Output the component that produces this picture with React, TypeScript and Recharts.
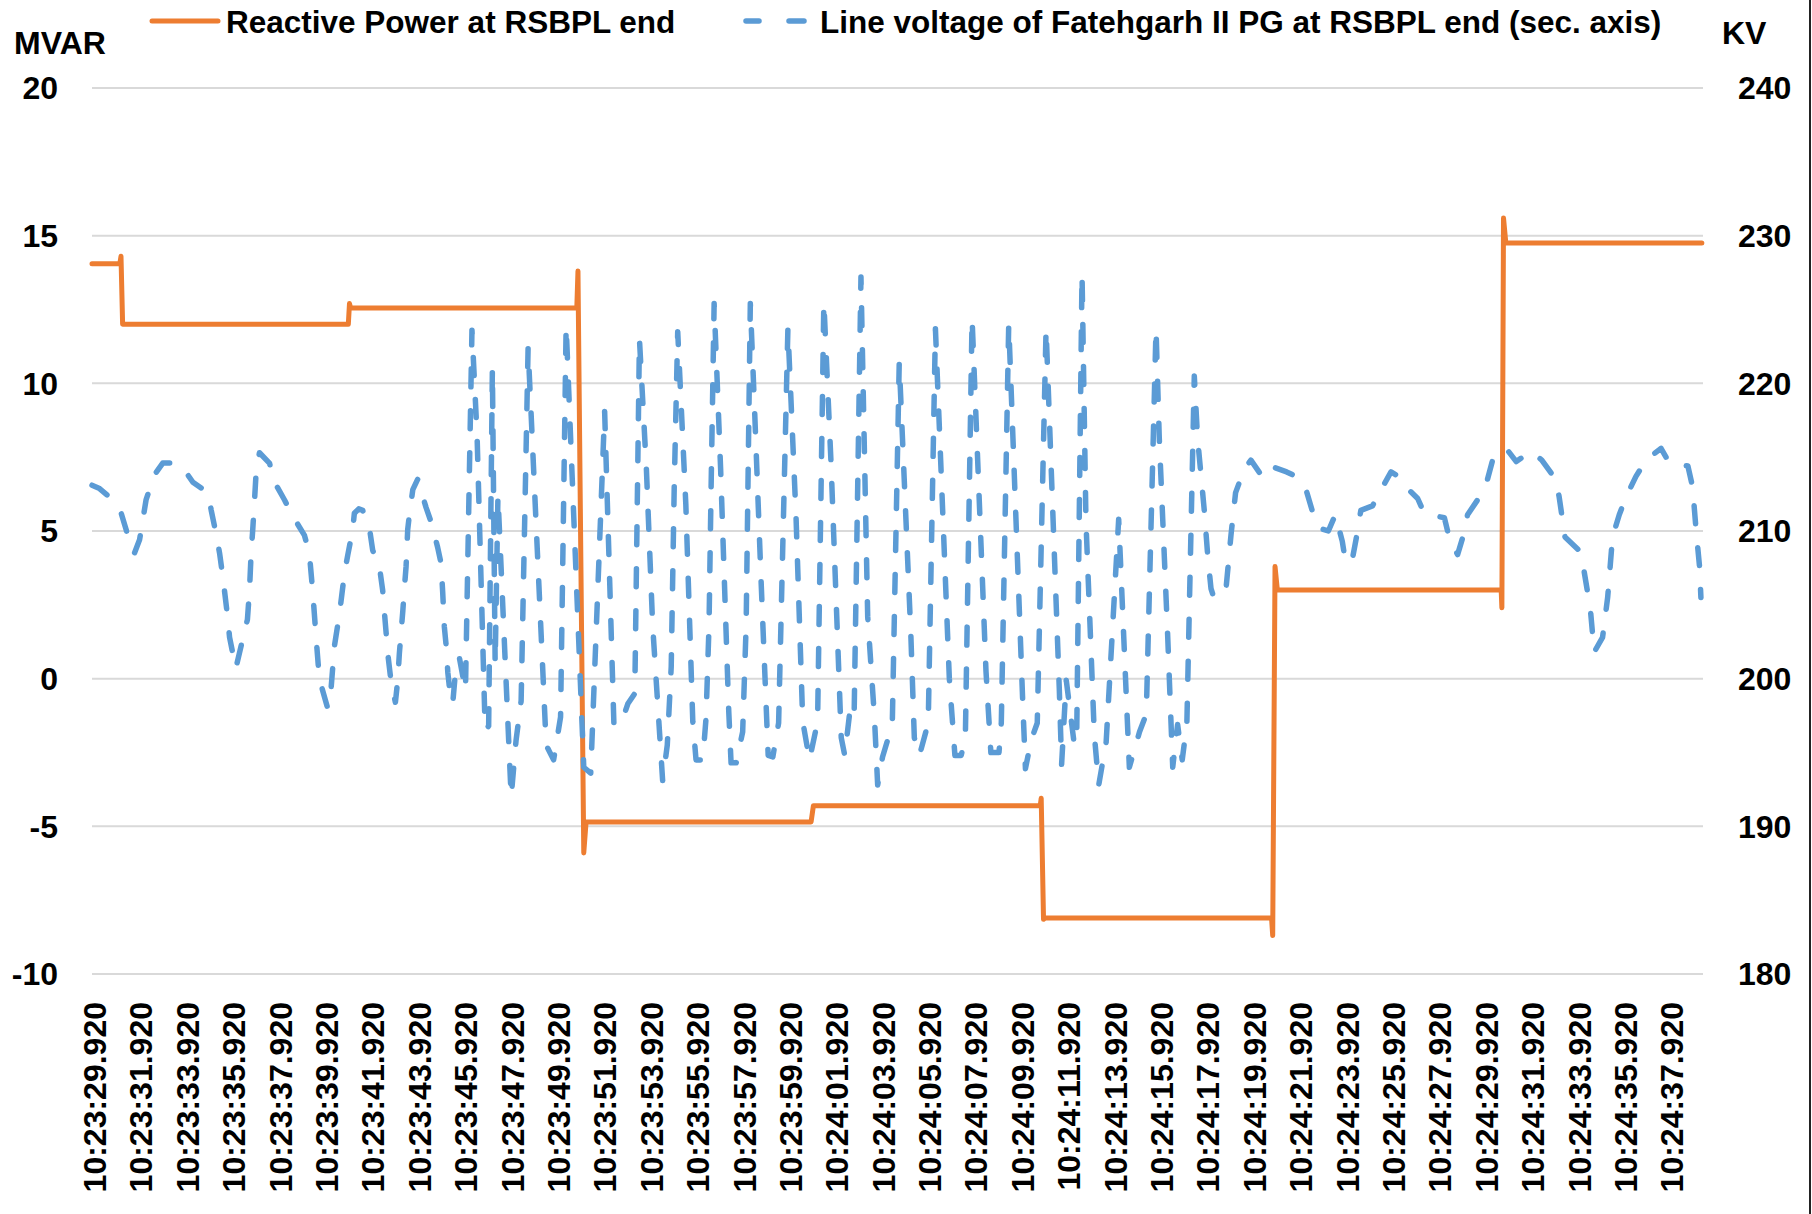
import React from "react";
import { CartesianGrid, Line, LineChart, XAxis, YAxis } from "recharts";

const FONT = '"Liberation Sans", Arial, sans-serif';
const ORANGE = "#ED7D31";
const BLUE = "#5B9BD5";

// seconds after 10:23:29.920
const powerTime = [
  0, 1.2, 1.25, 1.32, 11.05, 11.1, 11.15, 20.9, 20.95, 21.2, 21.3, 31.0, 31.1,
  40.88, 40.92, 41.02, 41.1, 50.85, 50.9, 51.0, 51.1, 60.75, 60.78, 60.85,
  60.95, 69.4,
];
const powerMvar = [
  14.05, 14.05, 14.3, 12.0, 12.0, 12.7, 12.55, 12.55, 13.8, -5.9, -4.85, -4.85,
  -4.3, -4.3, -4.05, -8.15, -8.1, -8.1, -8.7, 3.8, 3.0, 3.0, 2.4, 15.6, 14.75,
  14.75,
];

const voltTime = [
  0.0, 0.3, 0.68, 1.0, 1.26, 1.47, 1.65, 1.83, 2.05, 2.33, 2.69, 3.05, 3.5,
  3.91, 4.35, 5.0, 5.14, 5.35, 5.5, 5.64, 5.86, 5.93, 6.2, 6.5, 6.7, 6.79, 6.86,
  6.93, 7.0, 7.08, 7.22, 7.65, 7.87, 8.3, 8.66, 9.16, 9.37, 9.52, 9.66, 9.8,
  10.16, 10.31, 10.45, 10.67, 10.88, 11.03, 11.24, 11.31, 11.5, 11.67, 11.96,
  12.1, 12.39, 12.53, 12.6, 12.68, 12.75, 12.9, 13.08, 13.18, 13.25, 13.4,
  13.47, 13.54, 13.61, 13.69, 13.83, 14.04, 14.4, 14.62, 14.9, 15.05, 15.12,
  15.19, 15.27, 15.34, 15.41, 15.55, 15.7, 15.84, 16.1, 16.38, 16.6, 16.95,
  17.1, 17.26, 17.38, 17.5, 18.07, 18.28, 18.5, 18.8, 19.58, 19.9, 20.2, 20.44,
  21.2, 21.5, 22.1, 22.5, 22.8, 23.1, 23.4, 23.6, 23.9, 24.17, 24.6, 24.8,
  24.97, 25.1, 25.25, 25.6, 25.9, 26.04, 26.33, 26.47, 26.6, 26.69, 26.82, 27.1,
  27.45, 27.55, 27.77, 28.05, 28.2, 28.38, 28.55, 28.85, 29.15, 29.35, 29.6,
  30.0, 30.35, 30.64, 30.93, 31.28, 31.55, 31.86, 32.3, 32.45, 32.65, 32.85,
  33.15, 33.44, 33.73, 33.87, 34.08, 34.5, 34.8, 35.3, 35.45, 35.67, 36.05,
  36.36, 36.96, 37.2, 37.47, 37.65, 37.94, 38.54, 38.75, 39.1, 39.2, 39.52,
  40.12, 40.24, 40.48, 40.75, 41.13, 41.7, 41.8, 42.0, 42.35, 42.45, 42.68,
  42.85, 43.21, 43.4, 43.72, 44.26, 44.72, 45.16, 45.45, 45.87, 46.01, 46.37,
  46.59, 46.8, 47.0, 47.2, 47.52, 47.66, 47.95, 48.1, 48.24, 48.38, 48.9, 49.1,
  49.3, 49.68, 49.96, 50.4, 50.7, 50.97, 51.5, 51.9, 52.3, 52.6, 52.9, 53.3,
  53.6, 53.9, 54.0, 54.3, 54.5, 54.7, 55.2, 55.5, 56.0, 56.43, 56.5, 57.15,
  57.43, 57.65, 58.3, 58.5, 58.87, 59.1, 59.3, 59.73, 60.16, 60.38, 60.96, 61.4,
  62.03, 62.5, 63.1, 63.25, 63.5, 64.1, 64.3, 64.47, 64.6, 64.76, 65.12, 65.34,
  65.55, 65.84, 66.13, 66.56, 67.0, 67.64, 68.0, 68.8, 69.0, 69.15, 69.3, 69.36,
];
const voltKv = [
  213.1, 212.9, 212.4, 211.8, 211.2, 210.1, 209.0, 208.5, 209.4, 212.1, 213.8,
  214.6, 214.6, 214.3, 213.3, 212.6, 211.4, 209.8, 208.5, 206.9, 204.0, 202.8,
  200.7, 202.7, 204.0, 206.0, 208.5, 210.1, 211.9, 214.1, 215.3, 214.6, 213.3,
  212.1, 211.0, 209.7, 208.5, 205.8, 202.8, 200.0, 198.0, 199.4, 202.2, 204.4,
  207.1, 208.4, 210.1, 211.2, 211.5, 211.4, 210.2, 208.7, 207.6, 206.0, 204.6,
  203.1, 201.7, 199.7, 198.4, 199.9, 201.7, 204.6, 206.2, 207.6, 210.1, 211.2,
  212.8, 213.5, 211.6, 210.6, 208.9, 207.8, 205.8, 203.5, 202.2, 200.4, 199.4,
  198.3, 201.0, 201.4, 199.2, 223.6, 216.5, 196.5, 196.8, 221.0, 201.0, 212.4,
  192.0, 195.8, 198.5, 222.4, 195.5, 194.5, 197.4, 223.9, 194.0, 193.6, 218.1,
  196.9, 196.9, 198.3, 199.0, 223.0, 214.2, 203.6, 193.1, 195.5, 200.8, 213.0,
  223.5, 211.8, 197.1, 194.5, 194.5, 197.3, 203.6, 213.0, 225.4, 214.2, 197.8,
  194.3, 194.3, 196.4, 203.6, 225.4, 218.8, 206.4, 194.8, 194.7, 197.0, 223.7,
  211.0, 197.1, 194.5, 197.1, 225.5, 214.6, 196.0, 194.8, 197.5, 197.0, 227.2,
  204.2, 197.4, 192.8, 194.7, 196.9, 221.4, 203.0, 196.0, 194.8, 197.0, 223.7,
  200.0, 194.8, 194.8, 196.0, 224.4, 200.5, 195.0, 195.0, 197.0, 224.0, 198.6,
  193.9, 195.8, 197.0, 223.7, 199.3, 194.2, 199.9, 195.5, 196.0, 227.4, 210.6,
  196.2, 192.8, 195.7, 210.8, 194.0, 196.4, 197.6, 223.7, 216.3, 203.0, 194.0,
  196.9, 194.5, 197.0, 220.5, 216.3, 211.4, 208.3, 206.1, 205.4, 206.3, 209.7,
  212.6, 214.2, 214.8, 213.8, 213.6, 214.3, 214.0, 213.7, 213.0, 211.4, 210.2,
  210.0, 211.1, 209.3, 208.3, 207.8, 209.5, 211.4, 211.7, 212.6, 214.0, 213.6,
  213.2, 212.2, 211.2, 211.1, 210.9, 209.6, 208.4, 209.6, 211.1, 212.1, 213.5,
  214.8, 215.6, 214.7, 215.4, 214.8, 213.5, 212.3, 209.6, 208.7, 207.5, 205.9,
  204.6, 201.8, 202.8, 205.5, 209.6, 211.1, 212.3, 213.7, 214.8, 215.6, 214.6,
  214.4, 213.0, 210.1, 207.6, 205.5,
];

const tickSeconds = [
  0, 2, 4, 6, 8, 10, 12, 14, 16, 18, 20, 22, 24, 26, 28, 30, 32, 34, 36, 38, 40,
  42, 44, 46, 48, 50, 52, 54, 56, 58, 60, 62, 64, 66, 68,
];
const tickLabels = [
  "10:23:29.920", "10:23:31.920", "10:23:33.920", "10:23:35.920",
  "10:23:37.920", "10:23:39.920", "10:23:41.920", "10:23:43.920",
  "10:23:45.920", "10:23:47.920", "10:23:49.920", "10:23:51.920",
  "10:23:53.920", "10:23:55.920", "10:23:57.920", "10:23:59.920",
  "10:24:01.920", "10:24:03.920", "10:24:05.920", "10:24:07.920",
  "10:24:09.920", "10:24:11.920", "10:24:13.920", "10:24:15.920",
  "10:24:17.920", "10:24:19.920", "10:24:21.920", "10:24:23.920",
  "10:24:25.920", "10:24:27.920", "10:24:29.920", "10:24:31.920",
  "10:24:33.920", "10:24:35.920", "10:24:37.920",
];
const mvarTicks = [-10, -5, 0, 5, 10, 15, 20];
const kvTicks = [180, 190, 200, 210, 220, 230, 240];

const powerData = powerTime.map((t, i) => ({ t, mvar: powerMvar[i] }));
const voltData = voltTime.map((t, i) => ({ t, kv: voltKv[i] }));

const axisText = { fontSize: 32, fontWeight: "bold", fill: "#000", fontFamily: FONT };
const legendText = { ...axisText, fontSize: 31.5 };

const TimeTick = (props: any) => {
  const { x, y, payload } = props;
  const label = tickLabels[tickSeconds.indexOf(payload.value)];
  return (
    <text
      transform={`translate(${x + 3},${y + 28}) rotate(-90)`}
      textAnchor="end"
      dominantBaseline="central"
      {...axisText}
    >
      {label}
    </text>
  );
};

export default function App() {
  return (
    <div
      style={{
        position: "absolute",
        left: 0,
        top: 0,
        width: 1812,
        height: 1214,
        background: "#fff",
        fontFamily: FONT,
      }}
    >
      <LineChart
        width={1812}
        height={1214}
        margin={{ top: 88, right: 0, bottom: 0, left: 0 }}
      >
        <CartesianGrid
          yAxisId="mvar"
          vertical={false}
          stroke="#d9d9d9"
          strokeWidth={2}
        />
        <XAxis
          dataKey="t"
          type="number"
          domain={[0, 69.45]}
          ticks={tickSeconds}
          interval={0}
          height={240}
          axisLine={false}
          tickLine={false}
          tickSize={0}
          tickMargin={0}
          tick={<TimeTick />}
          allowDuplicatedCategory={false}
        />
        <YAxis
          yAxisId="mvar"
          orientation="left"
          width={92}
          domain={[-10, 20]}
          ticks={mvarTicks}
          interval={0}
          axisLine={false}
          tickLine={false}
          tickSize={0}
          tickMargin={34}
          tick={axisText}
        />
        <YAxis
          yAxisId="kv"
          orientation="right"
          width={109}
          domain={[180, 240]}
          ticks={kvTicks}
          interval={0}
          axisLine={false}
          tickLine={false}
          tickSize={0}
          tickMargin={35}
          tick={axisText}
        />
        <Line
          yAxisId="mvar"
          data={powerData}
          dataKey="mvar"
          type="linear"
          stroke={ORANGE}
          strokeWidth={5}
          strokeLinejoin="round"
          strokeLinecap="round"
          dot={false}
          activeDot={false}
          isAnimationActive={false}
        />
        <Line
          yAxisId="kv"
          data={voltData}
          dataKey="kv"
          type="linear"
          stroke={BLUE}
          strokeWidth={5.5}
          strokeDasharray="18 24"
          strokeLinecap="round"
          strokeLinejoin="round"
          dot={false}
          activeDot={false}
          isAnimationActive={false}
        />
      </LineChart>
      <svg
        width={1812}
        height={70}
        style={{ position: "absolute", left: 0, top: 0 }}
      >
        <line x1={152} x2={218} y1={21} y2={21} stroke={ORANGE} strokeWidth={5} strokeLinecap="round" />
        <text x={226} y={33} {...legendText}>
          Reactive Power at RSBPL end
        </text>
        <line x1={746} x2={759} y1={21} y2={21} stroke={BLUE} strokeWidth={5.5} strokeLinecap="round" />
        <line x1={789} x2={804} y1={21} y2={21} stroke={BLUE} strokeWidth={5.5} strokeLinecap="round" />
        <text x={820} y={33} {...legendText}>
          Line voltage of Fatehgarh II PG at RSBPL end (sec. axis)
        </text>
        <text x={14} y={54} {...axisText}>
          MVAR
        </text>
        <text x={1722} y={44} {...axisText}>
          KV
        </text>
      </svg>
      <div
        style={{
          position: "absolute",
          left: 1809,
          top: 0,
          width: 2,
          height: 1214,
          background: "#222",
        }}
      />
    </div>
  );
}
